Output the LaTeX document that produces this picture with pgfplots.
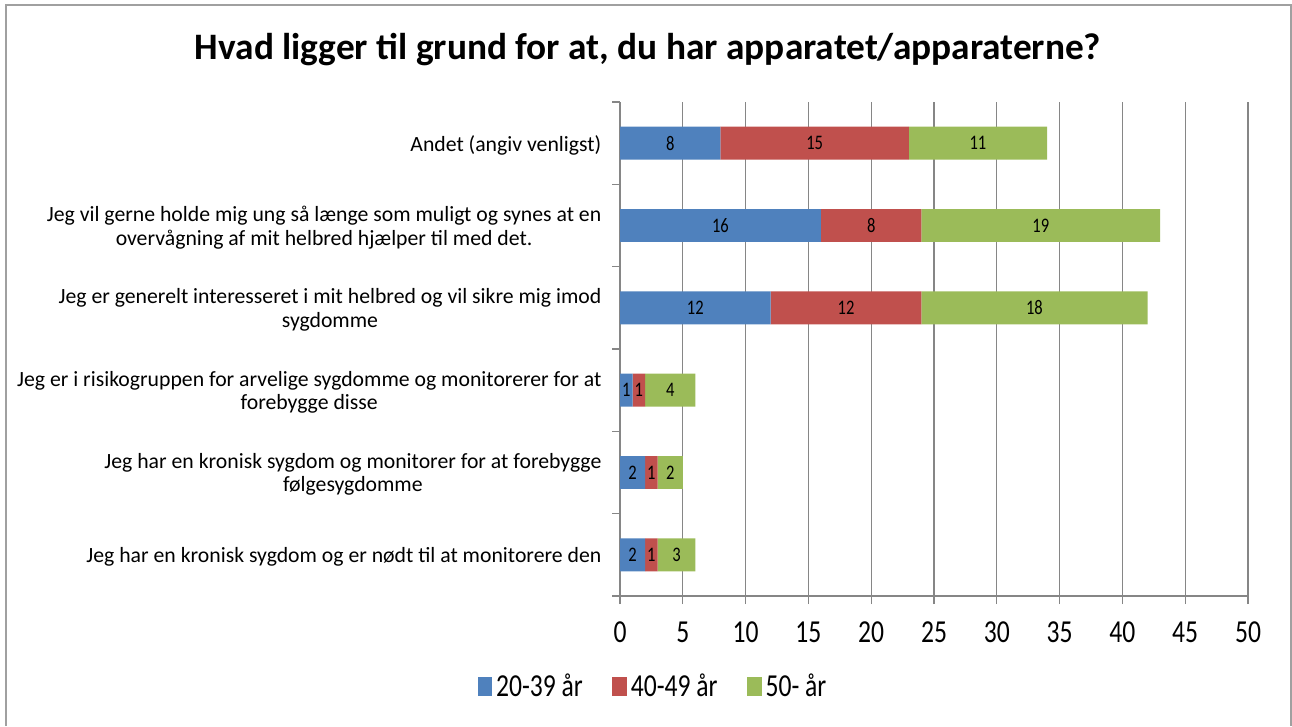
\documentclass[border=0pt]{standalone}
\usepackage{fontspec}
\setmainfont{Carlito}
\newfontfamily\numfont{Carlito}[FakeStretch=0.8]
\usepackage{pgfplots}
\pgfplotsset{compat=1.18}
\definecolor{SerA}{HTML}{4F81BD}
\definecolor{SerB}{HTML}{C0504D}
\definecolor{SerC}{HTML}{9BBB59}
\definecolor{GridG}{HTML}{868686}
\definecolor{FrameG}{HTML}{A0A0A0}

\begin{document}
\begin{tikzpicture}
  % picture size: 1292x726 px at 0.75pt per px
  \useasboundingbox (0,0) rectangle (969pt,-544.5pt);
  \draw[FrameG, line width=1.5pt] (4.5pt,-544.5pt) -- (4.5pt,-3.75pt) -- (968pt,-3.75pt) -- (968pt,-544.5pt);
  \node[font=\fontsize{28}{33}\selectfont\bfseries] at (486pt,-37.5pt) {Hvad ligger til grund for at, du har apparatet/apparaterne?};

  \begin{axis}[
      at={(465pt,-447pt)}, anchor=south west,
      scale only axis,
      width=471pt, height=370.5pt,
      xbar stacked,
      bar width=0.4,
      xmin=0, xmax=50,
      xtick={0,5,...,50},
      ymin=-0.5, ymax=5.5,
      ytick={-0.5,0.5,...,5.5},
      y tick label as interval,
      yticklabels={
        Jeg har en kronisk sygdom og er nødt til at monitorere den,
        {Jeg har en kronisk sygdom og monitorer for at forebygge\\følgesygdomme},
        {Jeg er i risikogruppen for arvelige sygdomme og monitorerer for at\\forebygge disse},
        {Jeg er generelt interesseret i mit helbred og vil sikre mig imod\\sygdomme},
        {Jeg vil gerne holde mig ung så længe som muligt og synes at en\\overvågning af mit helbred hjælper til med det.},
        Andet (angiv venligst)},
      yticklabel style={align=center, font=\fontsize{16.3}{17.5}\selectfont, xshift=-4.5pt, yshift=-1.5pt},
      xticklabel style={font=\numfont\fontsize{24}{28}\selectfont, yshift=-10pt},
      /pgf/number format/assume math mode=true,
      axis x line*=bottom, axis y line*=left,
      axis line style={draw=GridG, line width=1pt},
      tick align=outside,
      major tick length=6pt,
      tick style={draw=GridG, line width=1pt},
      xmajorgrids,
      major grid style={draw=GridG, line width=1pt},
      point meta=explicit symbolic,
      nodes near coords={\pgfplotspointmeta},
      every node near coord/.append style={
        anchor=center, font=\numfont\fontsize{15.5}{18}\selectfont, text=black},
      legend columns=3,
      legend style={at={(0.053,-0.183)}, anchor=center, draw=none,
        font=\numfont\fontsize{24}{28}\selectfont,
        /tikz/every odd column/.append style={column sep=1pt},
        /tikz/every even column/.append style={column sep=20pt}},
      legend image code/.code={\fill[#1] (0pt,-7pt) rectangle (11pt,7pt);},
    ]
    \addplot[fill=SerA, draw=none] coordinates {(2,0) [2] (2,1) [2] (1,2) [1] (12,3) [12] (16,4) [16] (8,5) [8]};
    \addplot[fill=SerB, draw=none] coordinates {(1,0) [1] (1,1) [1] (1,2) [1] (12,3) [12] (8,4) [8] (15,5) [15]};
    \addplot[fill=SerC, draw=none] coordinates {(3,0) [3] (2,1) [2] (4,2) [4] (18,3) [18] (19,4) [19] (11,5) [11]};
    \legend{20-39 år, 40-49 år, 50- år}
  \end{axis}
\end{tikzpicture}
\end{document}
